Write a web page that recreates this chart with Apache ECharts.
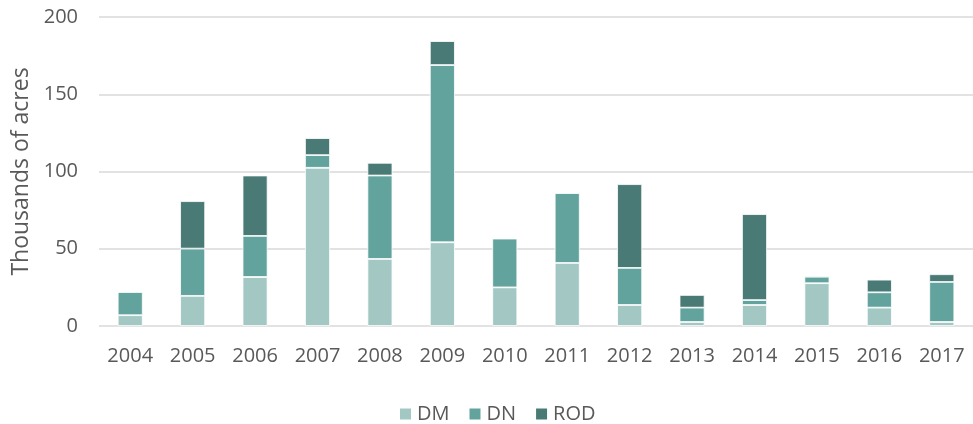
<!DOCTYPE html>
<html>
<head>
<meta charset="utf-8">
<script src="https://cdn.jsdelivr.net/npm/echarts@6/dist/echarts.min.js"></script>
<style>
  html, body { margin: 0; padding: 0; background: #fff; }
  #chart { width: 973px; height: 424px; }
</style>
</head>
<body>
<div id="chart"></div>
<script>
// 数据：每年三类面积（千英亩）
const years = ['2004', '2005', '2006', '2007', '2008', '2009', '2010', '2011', '2012', '2013', '2014', '2015', '2016', '2017']
const dmData = [7, 19.5, 31.7, 102.4, 43.4, 54.2, 25, 40.8, 13.6, 2.6, 13.6, 27.7, 11.9, 2.6]
const dnData = [15, 30.6, 26.6, 8.2, 54, 114.7, 31.6, 45.2, 24, 9.3, 3.2, 4.2, 9.9, 25.9]
const rodData = [0.4, 30.7, 39.1, 11, 8.2, 15.5, 0, 0.6, 54.2, 8.2, 55.6, 0.7, 8.2, 5]
const yTicks = [0, 50, 100, 150, 200]

const textColor = '#595959'
const fontFamily = '"Open Sans", sans-serif'

const chart = echarts.init(document.getElementById('chart'))

const makeSeries = (name, data, color) => ({
  name: name,
  type: 'bar',
  stack: 'total',
  barWidth: 25,
  data: data,
  itemStyle: { color: color, borderColor: '#fff', borderWidth: 0.8 }
})

const option = {
  animation: false,
  backgroundColor: '#fff',
  textStyle: { fontFamily: fontFamily },
  grid: { left: 99, top: 17, width: 884, height: 309 },
  legend: {
    left: 393,
    top: 399,
    itemWidth: 13,
    itemHeight: 13,
    itemGap: 18,
    icon: 'rect',
    textStyle: { color: textColor, fontSize: 20, fontFamily: fontFamily },
    data: ['DM', 'DN', 'ROD']
  },
  xAxis: {
    type: 'category',
    data: years,
    axisLine: { show: false },
    axisTick: { show: false },
    axisLabel: { color: textColor, fontSize: 20, margin: 20, interval: 0, fontFamily: fontFamily }
  },
  yAxis: {
    type: 'value',
    min: yTicks[0],
    max: yTicks[yTicks.length - 1],
    interval: 50,
    name: 'Thousands of acres',
    nameLocation: 'middle',
    nameGap: 66,
    nameTextStyle: { color: textColor, fontSize: 23, fontFamily: fontFamily },
    axisLine: { show: false },
    axisTick: { show: false },
    axisLabel: { color: textColor, fontSize: 20, margin: 21, fontFamily: fontFamily },
    splitLine: { lineStyle: { color: '#d9d9d9', width: 1.5 } }
  },
  series: [
    makeSeries('DM', dmData, '#a3c8c4'),
    makeSeries('DN', dnData, '#62a39d'),
    makeSeries('ROD', rodData, '#497a75')
  ]
}

chart.setOption(option)
</script>
</body>
</html>
